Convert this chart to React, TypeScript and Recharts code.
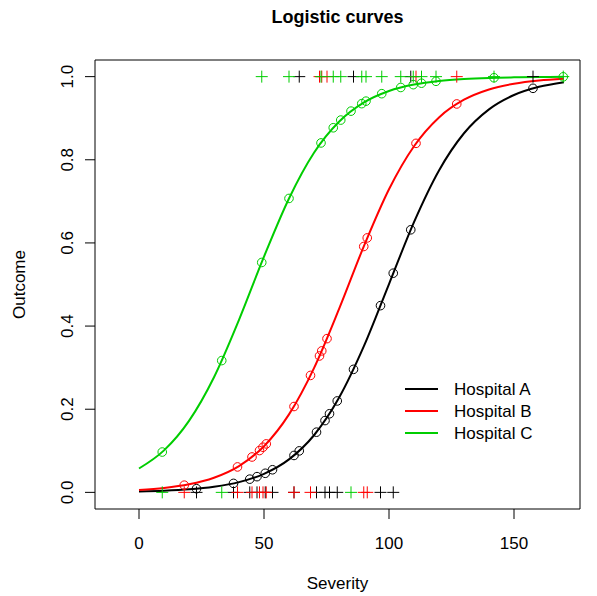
import React from 'react';
import { ComposedChart, Line, Scatter, XAxis, YAxis, ReferenceArea, Legend } from 'recharts';

// fitted probability curves, sampled every 10 units of severity
const curveX = [0, 10, 20, 30, 40, 50, 60, 70, 80, 90, 100, 110, 120, 130, 140, 150, 160, 170];
const curveA = [0.0022, 0.004, 0.0073, 0.0135, 0.0246, 0.0446, 0.0794, 0.1374, 0.2274, 0.3522, 0.5012, 0.65, 0.7743, 0.8638, 0.9213, 0.9558, 0.9756, 0.9867];
const curveB = [0.0058, 0.0106, 0.0194, 0.0353, 0.0633, 0.1111, 0.1876, 0.299, 0.4408, 0.5929, 0.7291, 0.8326, 0.9019, 0.9444, 0.9691, 0.983, 0.9908, 0.995];
const curveC = [0.0574, 0.101, 0.172, 0.277, 0.415, 0.567, 0.707, 0.817, 0.8915, 0.938, 0.9655, 0.981, 0.9897, 0.9944, 0.997, 0.9983, 0.9991, 0.9995];

// observations per hospital: severity, outcome (0/1), fitted value
const sevA = [23, 37.8, 44.3, 47.2, 50.5, 53.4, 62, 64.1, 71, 74.4, 76.2, 79.3, 85.8, 96.6, 101.7, 108.7, 157.6];
const outA = [0, 0, 0, 0, 0, 0, 0, 1, 0, 0, 0, 0, 1, 0, 0, 1, 1];
const fitA = [0.0088, 0.0216, 0.0318, 0.0378, 0.0459, 0.0544, 0.0888, 0.0998, 0.1448, 0.1727, 0.1891, 0.2199, 0.2959, 0.4492, 0.5272, 0.6316, 0.9719];

const sevB = [18.1, 39.4, 45.2, 48.2, 49.6, 50.9, 62, 68.6, 72.2, 73.1, 75.2, 89.9, 91.3, 110.8, 127.1];
const outB = [0, 0, 0, 0, 0, 0, 0, 0, 1, 1, 1, 0, 0, 1, 1];
const fitB = [0.0173, 0.0612, 0.0851, 0.1006, 0.1086, 0.1166, 0.2065, 0.2813, 0.3281, 0.3403, 0.3698, 0.5914, 0.6121, 0.8395, 0.9343];

const sevC = [9.3, 33.1, 49.1, 60, 72.8, 77.7, 80.7, 84.8, 89.1, 90.8, 97.1, 104.7, 109.7, 113, 118.8, 142, 169.7];
const outC = [0, 0, 1, 1, 1, 1, 1, 0, 1, 1, 1, 1, 1, 1, 1, 1, 1];
const fitC = [0.097, 0.317, 0.553, 0.707, 0.8405, 0.877, 0.8955, 0.917, 0.935, 0.941, 0.959, 0.9739, 0.9807, 0.9842, 0.9888, 0.9973, 0.9995];

const hospitals = ['Hospital A', 'Hospital B', 'Hospital C'];
const colors = ['#000000', '#FF0000', '#00CD00'];
const xTicks = [0, 50, 100, 150];
const yTicks = [0, 0.2, 0.4, 0.6, 0.8, 1];
const xDomain: [number, number] = [-17.6, 176.4];
const yDomain: [number, number] = [-0.04, 1.04];

const font = '"Liberation Sans", Arial, sans-serif';

const series = [
  { curve: curveA, sev: sevA, out: outA, fit: fitA },
  { curve: curveB, sev: sevB, out: outB, fit: fitB },
  { curve: curveC, sev: sevC, out: outC, fit: fitC },
].map((s, i) => ({
  name: hospitals[i],
  color: colors[i],
  line: curveX.map((x, j) => ({ x, y: s.curve[j] })),
  obs: s.sev.map((x, j) => ({ x, y: s.out[j] })),
  fitted: s.sev.map((x, j) => ({ x, y: s.fit[j] })),
}));

const plusShape = (color: string) => (p: any) => (
  <g stroke={color} strokeWidth={1}>
    <line x1={p.cx - 6} x2={p.cx + 6} y1={p.cy} y2={p.cy} />
    <line x1={p.cx} x2={p.cx} y1={p.cy - 6} y2={p.cy + 6} />
  </g>
);

const circleShape = (color: string) => (p: any) => (
  <circle cx={p.cx} cy={p.cy} r={4.3} fill="none" stroke={color} strokeWidth={1} />
);

const XTick = (p: any) => (
  <text x={p.x} y={p.y + 22.5} textAnchor="middle" dominantBaseline="central"
    fontFamily={font} fontSize={17} fill="#000">{p.payload.value}</text>
);

const YTick = (p: any) => (
  <text x={p.x - 15} y={p.y} transform={`rotate(-90 ${p.x - 15} ${p.y})`} textAnchor="middle"
    dominantBaseline="central" fontFamily={font} fontSize={17} fill="#000">
    {p.payload.value.toFixed(1)}
  </text>
);

const LegendBox = () => (
  <svg width={170} height={70} style={{ display: 'block' }}>
    {series.map((s, i) => (
      <g key={s.name}>
        <line x1={5} x2={38} y1={12 + i * 22} y2={12 + i * 22} stroke={s.color} strokeWidth={2} />
        <text x={54} y={12 + i * 22} dominantBaseline="central" fontFamily={font} fontSize={17} fill="#000">
          {s.name}
        </text>
      </g>
    ))}
  </svg>
);

export default function App() {
  return (
    <div style={{ position: 'absolute', left: 0, top: 0, width: 597, height: 596, background: '#fff' }}>
      <div style={{ position: 'absolute', left: 95, width: 485, top: 7, textAlign: 'center',
        fontFamily: font, fontWeight: 'bold', fontSize: 18 }}>
        Logistic curves
      </div>
      <ComposedChart width={597} height={596} margin={{ top: 60, right: 17, bottom: 0, left: 0 }}>
        <XAxis dataKey="x" type="number" domain={xDomain} ticks={xTicks} allowDataOverflow
          height={87} axisLine={false} tickSize={10} tickLine={{ stroke: '#000' }} tick={<XTick />}
          label={{ value: 'Severity', position: 'insideBottom', offset: 7, fontFamily: font, fontSize: 17, fill: '#000' }} />
        <YAxis type="number" domain={yDomain} ticks={yTicks} allowDataOverflow
          width={95} axisLine={false} tickSize={10} tickLine={{ stroke: '#000' }} tick={<YTick />}
          label={{ value: 'Outcome', angle: -90, position: 'insideLeft', offset: 19, fontFamily: font, fontSize: 17, fill: '#000', style: { textAnchor: 'middle' } }} />
        <ReferenceArea x1={xDomain[0]} x2={xDomain[1]} y1={yDomain[0]} y2={yDomain[1]}
          fill="none" stroke="#000" strokeWidth={1} fillOpacity={0} />
        {series.map((s) => [
          <Scatter key={s.name + '-obs'} data={s.obs} dataKey="y" shape={plusShape(s.color)} isAnimationActive={false} />,
          <Line key={s.name + '-line'} data={s.line} dataKey="y" type="monotone" stroke={s.color} strokeWidth={2}
            dot={false} activeDot={false} isAnimationActive={false} />,
          <Scatter key={s.name + '-fit'} data={s.fitted} dataKey="y" shape={circleShape(s.color)} isAnimationActive={false} />,
        ])}
        <Legend layout="vertical" align="center" verticalAlign="middle" content={() => <LegendBox />}
          wrapperStyle={{ position: 'absolute', left: 400, top: 377, width: 170 }} />
      </ComposedChart>
    </div>
  );
}
